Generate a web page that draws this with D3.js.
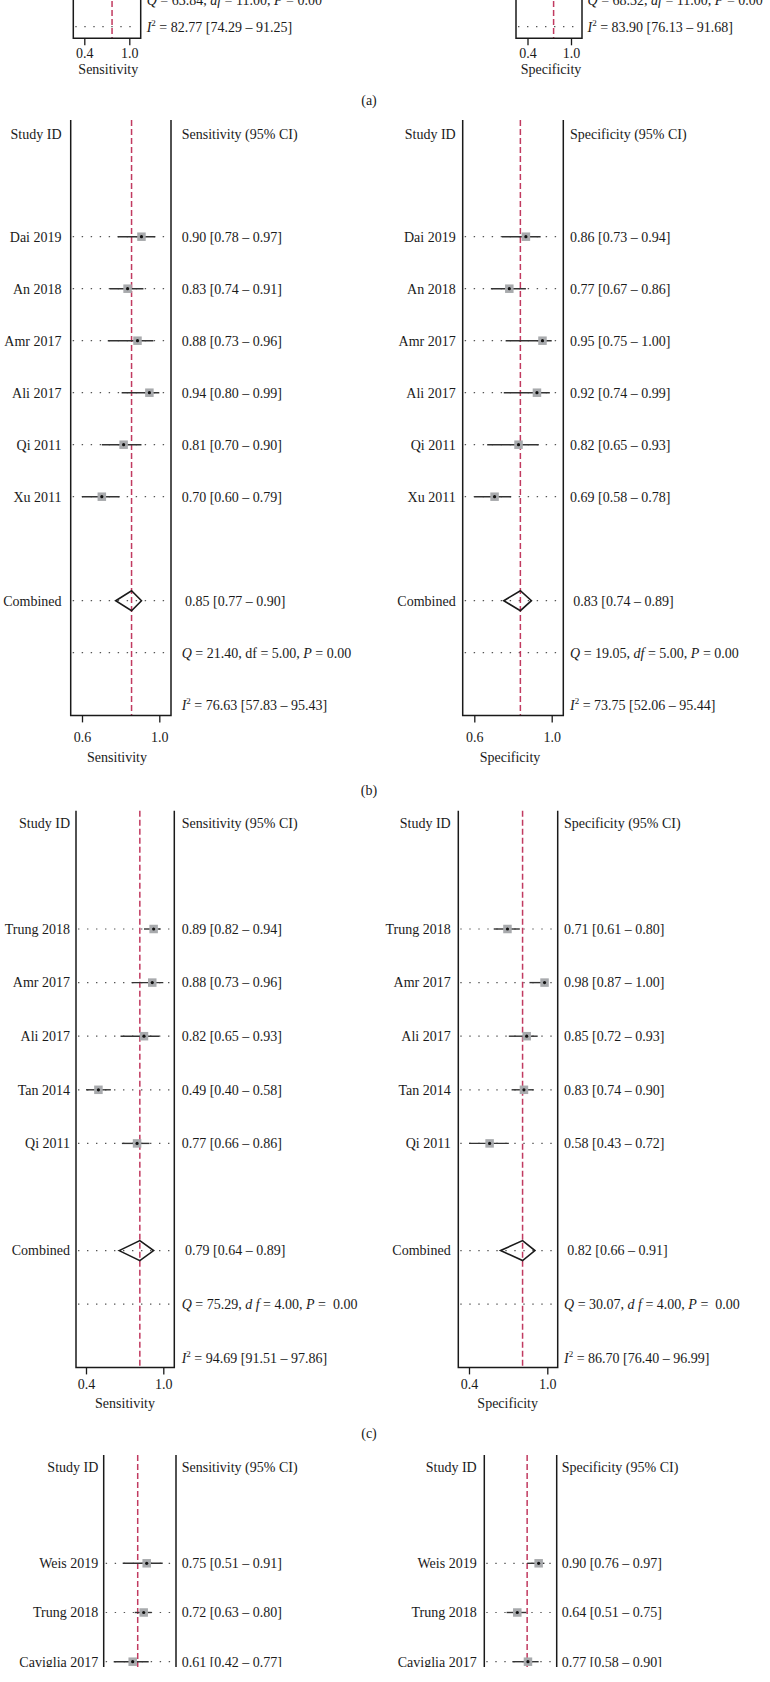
<!DOCTYPE html>
<html lang="en">
<head>
<meta charset="UTF-8">
<title>Forest plots of sensitivity and specificity</title>
<style>
  body { margin: 0; background: #fff; }
  svg text { font-family: "Liberation Serif", "Times New Roman", serif; font-size: 14px; fill: #1a1a1a; }
  .box { stroke: #1a1a1a; stroke-width: 1.5; fill: none; }
  .pooled-line { stroke: #c13a60; stroke-width: 1.5; stroke-dasharray: 6,3; }
  .guide { stroke: #555; stroke-width: 1.2; stroke-dasharray: 1.4,7.6; }
  .ci { stroke: #333; stroke-width: 1.4; }
  .marker { fill: #a8aaad; }
  .dot { fill: #111; }
  .diamond { fill: none; stroke: #1a1a1a; stroke-width: 1.6; }
</style>
</head>
<body>
<svg id="chart" width="770" height="1682"></svg>
<script src="https://cdn.jsdelivr.net/npm/d3@7"></script>
<script>
// ---- data ----
// (a) only the tail of this panel is visible
const axisSensA = [0.40, 1.00];
const axisSpecA = [0.40, 1.00];
const pooledSensA = [0.77];
const pooledSpecA = [0.76];
const qSensA = [63.84, 11.00, 0.00];
const qSpecA = [68.32, 11.00, 0.00];
const i2SensA = [82.77, 74.29, 91.25];
const i2SpecA = [83.90, 76.13, 91.68];

// (b)
const studiesB = ["Dai 2019", "An 2018", "Amr 2017", "Ali 2017", "Qi 2011", "Xu 2011"];
const sensB   = [0.90, 0.83, 0.88, 0.94, 0.81, 0.70];
const sensLoB = [0.78, 0.74, 0.73, 0.80, 0.70, 0.60];
const sensHiB = [0.97, 0.91, 0.96, 0.99, 0.90, 0.79];
const specB   = [0.86, 0.77, 0.95, 0.92, 0.82, 0.69];
const specLoB = [0.73, 0.67, 0.75, 0.74, 0.65, 0.58];
const specHiB = [0.94, 0.86, 1.00, 0.99, 0.93, 0.78];
const pooledSensB = [0.85, 0.77, 0.90];
const pooledSpecB = [0.83, 0.74, 0.89];
const qSensB = [21.40, 5.00, 0.00];
const qSpecB = [19.05, 5.00, 0.00];
const i2SensB = [76.63, 57.83, 95.43];
const i2SpecB = [73.75, 52.06, 95.44];

// (c)
const studiesC = ["Trung 2018", "Amr 2017", "Ali 2017", "Tan 2014", "Qi 2011"];
const sensC   = [0.89, 0.88, 0.82, 0.49, 0.77];
const sensLoC = [0.82, 0.73, 0.65, 0.40, 0.66];
const sensHiC = [0.94, 0.96, 0.93, 0.58, 0.86];
const specC   = [0.71, 0.98, 0.85, 0.83, 0.58];
const specLoC = [0.61, 0.87, 0.72, 0.74, 0.43];
const specHiC = [0.80, 1.00, 0.93, 0.90, 0.72];
const pooledSensC = [0.79, 0.64, 0.89];
const pooledSpecC = [0.82, 0.66, 0.91];
const qSensC = [75.29, 4.00, 0.00];
const qSpecC = [30.07, 4.00, 0.00];
const i2SensC = [94.69, 91.51, 97.86];
const i2SpecC = [86.70, 76.40, 96.99];

// (d) cut off at the bottom of the page
const studiesD = ["Weis 2019", "Trung 2018", "Caviglia 2017"];
const sensD   = [0.75, 0.72, 0.61];
const sensLoD = [0.51, 0.63, 0.42];
const sensHiD = [0.91, 0.80, 0.77];
const specD   = [0.90, 0.64, 0.77];
const specLoD = [0.76, 0.51, 0.58];
const specHiD = [0.97, 0.75, 0.90];
const pooledSensD = [0.66];
const pooledSpecD = [0.76];

const sectionLabels = ["(a)", "(b)", "(c)"];

// ---- drawing ----
const svg = d3.select("#chart");
svg.append("defs").append("clipPath").attr("id", "crop")
  .append("rect").attr("width", 770).attr("height", 1667);
const chart = svg.append("g").attr("clip-path", "url(#crop)");
const f2 = d3.format(".2f");
const BASE = 4.8; // text centre -> baseline

function qLine(g, xPos, y, q, dfItalic, dfText, pGap) {
  const t = g.append("text").attr("x", xPos).attr("y", y + BASE).style("white-space", "pre");
  t.append("tspan").attr("font-style", "italic").text("Q");
  t.append("tspan").text(" = " + f2(q[0]) + ", ");
  t.append("tspan").attr("font-style", dfItalic ? "italic" : null).text(dfText);
  t.append("tspan").text(" = " + f2(q[1]) + ", ");
  t.append("tspan").attr("font-style", "italic").text("P");
  t.append("tspan").text(" =" + pGap + f2(q[2]));
}

function i2Line(g, xPos, y, v) {
  const t = g.append("text").attr("x", xPos).attr("y", y + BASE);
  t.append("tspan").attr("font-style", "italic").text("I");
  t.append("tspan").attr("font-size", 9).attr("dy", -5.5).text("2");
  t.append("tspan").attr("dy", 5.5).text(" = " + f2(v[0]) + " [" + f2(v[1]) + " \u2013 " + f2(v[2]) + "]");
}

function drawPanel(p) {
  const domain = p.domain || [d3.min(p.lo), d3.max(p.hi)];
  const x = d3.scaleLinear().domain(domain).range(p.range);
  const n = p.studies.length;
  const rowY = i => p.row0 + i * p.step;
  const yComb = rowY(n + 1), yQ = rowY(n + 2), yI2 = rowY(n + 3);
  const bottom = yI2 + p.pad;
  const g = chart.append("g");

  // dotted guide rows
  const guideRows = d3.range(n).map(rowY);
  if (p.pooled.length === 3) guideRows.push(yComb);
  if (p.dotQ) guideRows.push(yQ);
  if (p.dotI2) guideRows.push(yI2);
  g.selectAll("line.guide").data(guideRows).join("line").attr("class", "guide")
    .attr("x1", p.boxL + 2).attr("x2", p.boxR - 4)
    .attr("y1", d => d).attr("y2", d => d);

  // pooled estimate line
  g.append("line").attr("class", "pooled-line")
    .attr("x1", x(p.pooled[0])).attr("x2", x(p.pooled[0]))
    .attr("y1", p.top).attr("y2", bottom);

  // study CIs and markers
  const rows = p.studies.map((s, i) => ({ s, est: p.est[i], lo: p.lo[i], hi: p.hi[i], y: rowY(i) }));
  g.selectAll("line.ci").data(rows).join("line").attr("class", "ci")
    .attr("x1", d => x(d.lo)).attr("x2", d => x(d.hi))
    .attr("y1", d => d.y).attr("y2", d => d.y);
  const ms = 8.5;
  g.selectAll("rect.marker").data(rows).join("rect").attr("class", "marker")
    .attr("x", d => x(d.est) - ms / 2).attr("y", d => d.y - ms / 2)
    .attr("width", ms).attr("height", ms);
  g.selectAll("circle.dot").data(rows).join("circle").attr("class", "dot")
    .attr("cx", d => x(d.est)).attr("cy", d => d.y).attr("r", 1.6);

  // pooled diamond
  if (p.pooled.length === 3) {
    const [e, l, h] = p.pooled;
    g.append("path").attr("class", "diamond")
      .attr("d", `M${x(l)},${yComb}L${x(e)},${yComb - 10}L${x(h)},${yComb}L${x(e)},${yComb + 10}Z`);
  }

  // frame
  g.append("path").attr("class", "box")
    .attr("d", `M${p.boxL},${p.top}V${bottom}H${p.boxR}V${p.top}`);

  // axis
  const ax = g.append("g").attr("transform", `translate(0,${bottom})`)
    .call(d3.axisBottom(x).tickValues(domain).tickFormat(d3.format(".1f")).tickSize(7).tickSizeOuter(0));
  ax.attr("font-family", null).attr("font-size", null);
  ax.select(".domain").remove();
  ax.selectAll(".tick line").attr("stroke", "#1a1a1a").attr("stroke-width", 1.3);
  ax.selectAll(".tick text").attr("y", p.tickDy + BASE).attr("dy", null);
  g.append("text").attr("x", p.titleX).attr("y", bottom + p.titleDy + BASE)
    .attr("text-anchor", "middle").text(p.measure);

  // headers
  if (p.headerY !== undefined) {
    g.append("text").attr("x", p.labelX).attr("y", p.headerY + BASE).attr("text-anchor", "end").text("Study ID");
    g.append("text").attr("x", p.valueX).attr("y", p.headerY + BASE).text(p.measure + " (95% CI)");
  }

  // row texts
  g.selectAll("text.lab").data(rows).join("text").attr("class", "lab")
    .attr("x", p.labelX).attr("y", d => d.y + BASE).attr("text-anchor", "end").text(d => d.s);
  g.selectAll("text.val").data(rows).join("text").attr("class", "val")
    .attr("x", p.valueX).attr("y", d => d.y + BASE)
    .text(d => f2(d.est) + " [" + f2(d.lo) + " \u2013 " + f2(d.hi) + "]");
  if (p.pooled.length === 3) {
    g.append("text").attr("x", p.labelX).attr("y", yComb + BASE).attr("text-anchor", "end").text("Combined");
    g.append("text").attr("x", p.valueX + 3.3).attr("y", yComb + BASE)
      .text(f2(p.pooled[0]) + " [" + f2(p.pooled[1]) + " \u2013 " + f2(p.pooled[2]) + "]");
  }
  if (p.q) qLine(g, p.valueX, yQ, p.q, p.dfItalic, p.dfText, p.pGap);
  if (p.i2) i2Line(g, p.valueX, yI2, p.i2);
}

const panels = [
  // (a)
  { measure: "Sensitivity", studies: [], est: [], lo: [], hi: [], domain: axisSensA, pooled: pooledSensA,
    q: qSensA, i2: i2SensA, dfItalic: true, dfText: "df", pGap: " ",
    range: [84.3, 129.3], boxL: 73.3, boxR: 140.7, top: -80, row0: -54.3, step: 27, pad: 11.6,
    labelX: 68, valueX: 146.7, tickDy: 15, titleDy: 30.7, titleX: 108.3, dotI2: true, dotQ: false },
  { measure: "Specificity", studies: [], est: [], lo: [], hi: [], domain: axisSpecA, pooled: pooledSpecA,
    q: qSpecA, i2: i2SpecA, dfItalic: true, dfText: "df", pGap: " ",
    range: [527.5, 571], boxL: 516, boxR: 582, top: -80, row0: -54.3, step: 27, pad: 11.6,
    labelX: 510, valueX: 587.5, tickDy: 15, titleDy: 30.7, titleX: 551, dotI2: true, dotQ: false },
  // (b)
  { measure: "Sensitivity", studies: studiesB, est: sensB, lo: sensLoB, hi: sensHiB, pooled: pooledSensB,
    q: qSensB, i2: i2SensB, dfItalic: false, dfText: "df", pGap: " ",
    range: [82, 159.3], boxL: 70.7, boxR: 171, top: 120, row0: 236.7, step: 52, pad: 10.7,
    headerY: 134, labelX: 61.5, valueX: 181.7, tickDy: 22, titleDy: 42, titleX: 117, dotI2: false, dotQ: true },
  { measure: "Specificity", studies: studiesB, est: specB, lo: specLoB, hi: specHiB, pooled: pooledSpecB,
    q: qSpecB, i2: i2SpecB, dfItalic: true, dfText: "df", pGap: " ",
    range: [474.3, 551.7], boxL: 462.7, boxR: 563.3, top: 120, row0: 236.7, step: 52, pad: 10.7,
    headerY: 134, labelX: 455.7, valueX: 570, tickDy: 22, titleDy: 42, titleX: 510, dotI2: false, dotQ: true },
  // (c)
  { measure: "Sensitivity", studies: studiesC, est: sensC, lo: sensLoC, hi: sensHiC, pooled: pooledSensC,
    q: qSensC, i2: i2SensC, dfItalic: true, dfText: "d f", pGap: "  ",
    range: [86, 163.3], boxL: 76, boxR: 174.3, top: 810.7, row0: 929, step: 53.6, pad: 9.6,
    headerY: 823.3, labelX: 70, valueX: 181.7, tickDy: 17, titleDy: 35.4, titleX: 125, dotI2: false, dotQ: true },
  { measure: "Specificity", studies: studiesC, est: specC, lo: specLoC, hi: specHiC, pooled: pooledSpecC,
    q: qSpecC, i2: i2SpecC, dfItalic: true, dfText: "d f", pGap: "  ",
    range: [469, 547.3], boxL: 458.3, boxR: 557.7, top: 810.7, row0: 929, step: 53.6, pad: 9.6,
    headerY: 823.3, labelX: 450.7, valueX: 564, tickDy: 17, titleDy: 35.4, titleX: 507.7, dotI2: false, dotQ: true },
  // (d)
  { measure: "Sensitivity", studies: studiesD, est: sensD, lo: sensLoD, hi: sensHiD, pooled: pooledSensD,
    range: [113.7, 162.7], boxL: 103.7, boxR: 176, top: 1455, row0: 1563.3, step: 49.2, pad: 10,
    headerY: 1467.3, labelX: 98.3, valueX: 181.7, tickDy: 17, titleDy: 35, titleX: 140, dotI2: false, dotQ: true },
  { measure: "Specificity", studies: studiesD, est: specD, lo: specLoD, hi: specHiD, pooled: pooledSpecD,
    range: [506.6, 544.4], boxL: 484.3, boxR: 556.7, top: 1455, row0: 1563.3, step: 49.2, pad: 10,
    headerY: 1467.3, labelX: 476.7, valueX: 561.7, tickDy: 17, titleDy: 35, titleX: 520, dotI2: false, dotQ: true }
];

panels.forEach(drawPanel);

// sub-figure letters
const letterY = [100, 790, 1433.3];
chart.selectAll("text.letter").data(sectionLabels).join("text").attr("class", "letter")
  .attr("x", 369).attr("y", (d, i) => letterY[i] + BASE).attr("text-anchor", "middle").text(d => d);
</script>
</body>
</html>
